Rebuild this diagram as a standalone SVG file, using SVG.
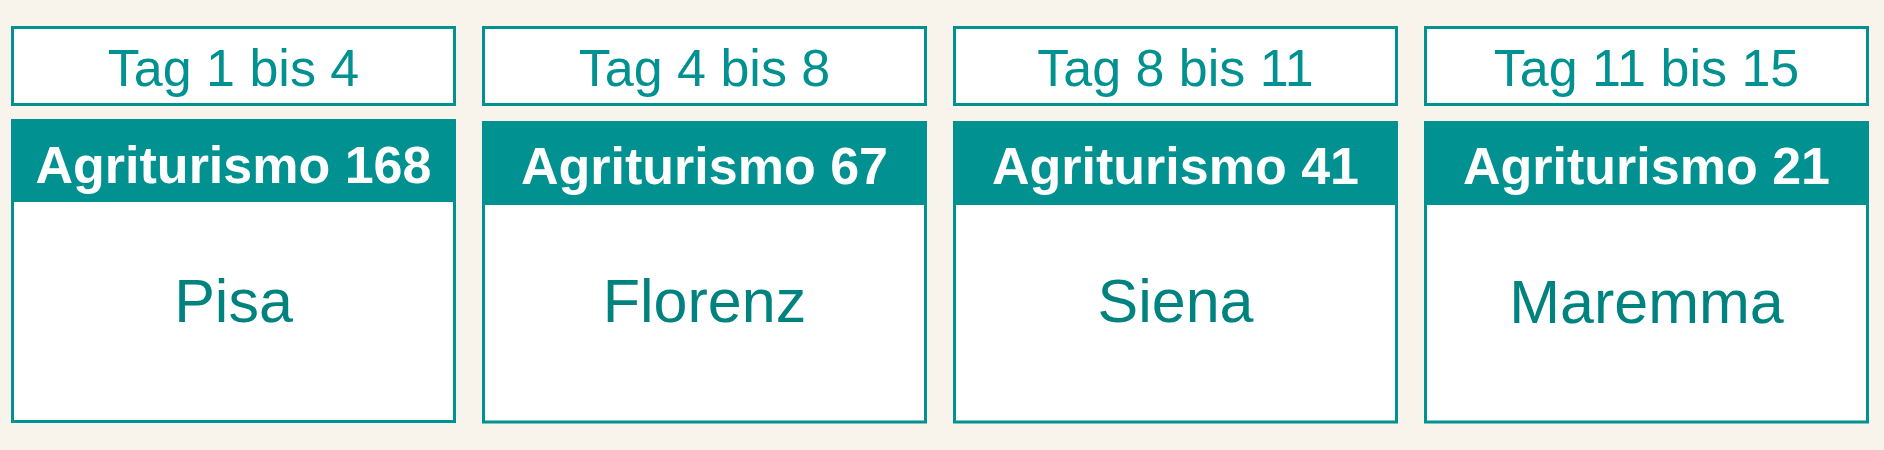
<svg xmlns="http://www.w3.org/2000/svg" width="1884" height="450" viewBox="0 0 1884 450">
<style>
.bg{fill:#f8f4ec}
.tagbox{fill:#ffffff;stroke:#009190;stroke-width:3}
.head{fill:#009190}
.body{fill:#ffffff;stroke:#009190;stroke-width:3}
.tag{font-family:"Liberation Sans",Arial,sans-serif;font-size:52px;fill:#009190;text-anchor:middle}
.hd{font-family:"Liberation Sans",Arial,sans-serif;font-size:52px;font-weight:bold;fill:#ffffff;text-anchor:middle}
.pl{font-family:"Liberation Sans",Arial,sans-serif;font-size:61px;fill:#00837f;text-anchor:middle}
</style>
<rect class="bg" x="0" y="0" width="1884" height="450"/>
<g id="node-pisa">
<rect class="tagbox" x="12.5" y="27.5" width="442" height="77"/>
<text class="tag" x="233.5" y="86">Tag 1 bis 4</text>
<rect class="body" x="12.5" y="200.5" width="442" height="221"/>
<rect class="head" x="11" y="119" width="445" height="83"/>
<text class="hd" x="233.5" y="183">Agriturismo 168</text>
<text class="pl" x="233.5" y="322">Pisa</text>
</g>
<g id="node-florenz">
<rect class="tagbox" x="483.5" y="27.5" width="442" height="77"/>
<text class="tag" x="704.5" y="86">Tag 4 bis 8</text>
<rect class="body" x="483.5" y="203.5" width="442" height="218.5"/>
<rect class="head" x="482" y="121" width="445" height="84"/>
<text class="hd" x="704.5" y="184">Agriturismo 67</text>
<text class="pl" x="704.5" y="322">Florenz</text>
</g>
<g id="node-siena">
<rect class="tagbox" x="954.5" y="27.5" width="442" height="77"/>
<text class="tag" x="1175.5" y="86">Tag 8 bis 11</text>
<rect class="body" x="954.5" y="203.5" width="442" height="218.5"/>
<rect class="head" x="953" y="121" width="445" height="84"/>
<text class="hd" x="1175.5" y="184">Agriturismo 41</text>
<text class="pl" x="1175.5" y="322">Siena</text>
</g>
<g id="node-maremma">
<rect class="tagbox" x="1425.5" y="27.5" width="442" height="77"/>
<text class="tag" x="1646.5" y="86">Tag 11 bis 15</text>
<rect class="body" x="1425.5" y="203.5" width="442" height="218.5"/>
<rect class="head" x="1424" y="121" width="445" height="83"/>
<text class="hd" x="1646.5" y="184">Agriturismo 21</text>
<text class="pl" x="1646.5" y="323">Maremma</text>
</g>
<g id="connectors"></g>
</svg>
